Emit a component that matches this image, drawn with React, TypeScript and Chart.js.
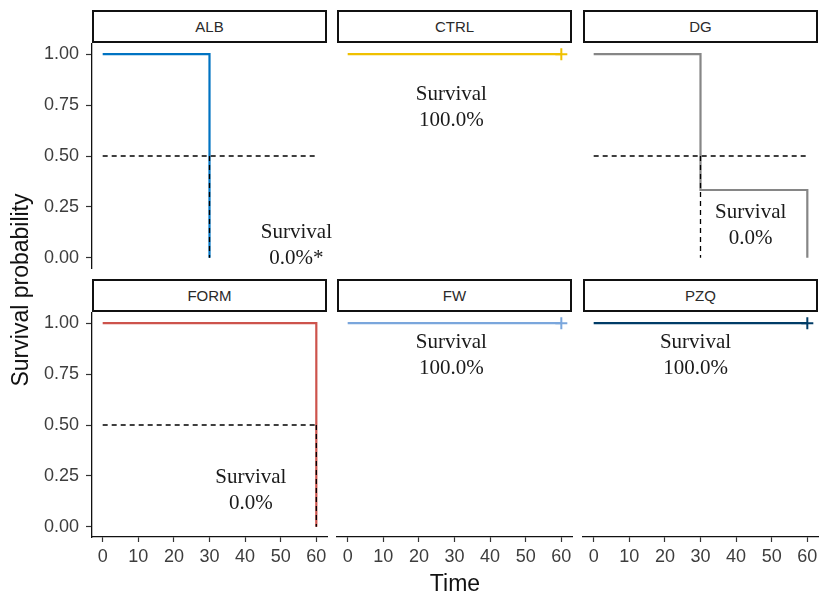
import React, { useEffect, useRef } from "react";
import { Chart, registerables } from "chart.js";

Chart.register(...registerables);

// ---- data ----
const GROUPS = ["ALB", "CTRL", "DG", "FORM", "FW", "PZQ"];
const COLORS = ["#0073C2", "#EFC000", "#868686", "#CD534C", "#7AA6DC", "#003C67"];
const TIMES = [[0, 30], [0, 60], [0, 30, 60], [0, 60], [0, 60], [0, 60]];
const SURV = [[1, 0], [1, 1], [1, 0.333, 0], [1, 0], [1, 1], [1, 1]];
const CENSOR_TIMES = [[], [60], [], [], [60], [60]];
const MEDIANS = [30, null, 30, 60, null, null];
const MEDIAN_LINE_END = 60;
const SURVIVAL_TEXT = ["0.0%*", "100.0%", "0.0%", "0.0%", "100.0%", "100.0%"];
const LABEL_X = [54.4, 29.1, 44.1, 41.6, 29.1, 28.6];
const LABEL_Y = [0.06, 0.74, 0.16, 0.18, 0.84, 0.84];
const X_TICKS = [0, 10, 20, 30, 40, 50, 60];
const Y_TICKS = [0, 0.25, 0.5, 0.75, 1];

// ---- layout ----
const PANEL_W = 235;
const PANEL_H = 224;
const COL_LEFT = [92, 337, 583];
const ROW_TOP = [44, 313];
const STRIP_H = 34;

const SANS = '"Liberation Sans", Arial, sans-serif';
const SERIF = '"Liberation Serif", "Times New Roman", serif';

function Panel({ idx }: { idx: number }) {
  const ref = useRef<HTMLCanvasElement | null>(null);
  const col = idx % 3;
  const row = Math.floor(idx / 3);
  const mL = col === 0 ? 92 : 20;
  const mR = 20;
  const mT = 20;
  const mB = row === 1 ? 59 : 20;
  const left = COL_LEFT[col] - mL;
  const top = ROW_TOP[row] - mT;
  const w = PANEL_W + mL + mR;
  const h = PANEL_H + mT + mB;

  useEffect(() => {
    if (!ref.current) return;
    const color = COLORS[idx];
    const datasets: any[] = [];
    datasets.push({
      data: TIMES[idx].map((t, i) => ({ x: t, y: SURV[idx][i] })),
      borderColor: color,
      borderWidth: 2.2,
      stepped: "before",
      pointRadius: 0,
      order: 2,
    });
    const med = MEDIANS[idx];
    if (med !== null) {
      datasets.push({
        data: [{ x: 0, y: 0.5 }, { x: MEDIAN_LINE_END, y: 0.5 }],
        borderColor: "#000",
        borderWidth: 1.3,
        borderDash: [5, 4],
        pointRadius: 0,
        order: 0,
      });
      datasets.push({
        data: [{ x: med, y: 0.5 }, { x: med, y: 0 }],
        borderColor: "#000",
        borderWidth: 1.3,
        borderDash: [5, 4],
        pointRadius: 0,
        order: 0,
      });
    }
    if (CENSOR_TIMES[idx].length) {
      datasets.push({
        data: CENSOR_TIMES[idx].map((t) => {
          let s = 1;
          TIMES[idx].forEach((tt, i) => {
            if (tt <= t) s = SURV[idx][i];
          });
          return { x: t, y: s };
        }),
        showLine: false,
        pointStyle: "cross",
        pointRadius: 6,
        borderColor: color,
        borderWidth: 2,
        backgroundColor: color,
        order: 1,
      });
    }

    const labelPlugin = {
      id: "survLabel",
      afterDatasetsDraw(chart: any) {
        const { ctx, scales } = chart;
        const px = scales.x.getPixelForValue(LABEL_X[idx]);
        const py = scales.y.getPixelForValue(LABEL_Y[idx]);
        ctx.save();
        ctx.font = `21px ${SERIF}`;
        ctx.fillStyle = "#1a1a1a";
        ctx.textAlign = "center";
        ctx.textBaseline = "middle";
        ctx.fillText("Survival", px, py - 13);
        ctx.fillText(SURVIVAL_TEXT[idx], px, py + 13);
        ctx.restore();
      },
    };

    const chart = new Chart(ref.current, {
      type: "line",
      data: { datasets },
      options: {
        responsive: false,
        animation: false,
        layout: {
          padding: {
            left: col === 0 ? 0 : mL,
            right: mR,
            top: mT,
            bottom: row === 1 ? 0 : mB,
          },
        },
        plugins: { legend: { display: false }, tooltip: { enabled: false } },
        scales: {
          x: {
            type: "linear",
            min: -3,
            max: 63,
            display: row === 1,
            afterBuildTicks: (s: any) => {
              s.ticks = X_TICKS.map((v) => ({ value: v }));
            },
            afterFit: (s: any) => {
              if (row === 1) s.height = mB;
            },
            grid: {
              display: true,
              drawOnChartArea: false,
              drawTicks: true,
              tickLength: 5,
              tickColor: "#333",
              tickWidth: 1.2,
            },
            border: { display: true, color: "#111", width: 1.3 },
            ticks: {
              font: { size: 18, family: SANS },
              color: "#3d3d3d",
              padding: 4,
              maxRotation: 0,
              autoSkip: false,
              callback: (v: any) => String(v),
            },
          },
          y: {
            type: "linear",
            min: -0.05,
            max: 1.05,
            display: col === 0,
            afterBuildTicks: (s: any) => {
              s.ticks = Y_TICKS.map((v) => ({ value: v }));
            },
            afterFit: (s: any) => {
              if (col === 0) s.width = mL;
            },
            grid: {
              display: true,
              drawOnChartArea: false,
              drawTicks: true,
              tickLength: 6,
              tickColor: "#333",
              tickWidth: 1.2,
            },
            border: { display: true, color: "#111", width: 1.3 },
            ticks: {
              font: { size: 18, family: SANS },
              color: "#3d3d3d",
              padding: 7,
              autoSkip: false,
              callback: (v: any) => Number(v).toFixed(2),
            },
          },
        },
      } as any,
      plugins: [labelPlugin],
    });
    return () => chart.destroy();
  }, []);

  return (
    <canvas
      ref={ref}
      width={w}
      height={h}
      style={{ position: "absolute", left, top, width: w, height: h }}
    />
  );
}

function Strip({ idx }: { idx: number }) {
  const col = idx % 3;
  const row = Math.floor(idx / 3);
  return (
    <div
      style={{
        position: "absolute",
        left: COL_LEFT[col],
        top: ROW_TOP[row] - STRIP_H,
        width: PANEL_W,
        height: STRIP_H - 1,
        boxSizing: "border-box",
        border: "2px solid #111",
        background: "#fff",
        display: "flex",
        alignItems: "center",
        justifyContent: "center",
        fontFamily: SANS,
        fontSize: 15,
        color: "#2a2a2a",
      }}
    >
      {GROUPS[idx]}
    </div>
  );
}

export default function App() {
  return (
    <div
      style={{
        position: "absolute",
        left: 0,
        top: 0,
        width: 822,
        height: 596,
        overflow: "hidden",
        background: "#fff",
      }}
    >
      {GROUPS.map((g, i) => (
        <Strip key={"s" + g} idx={i} />
      ))}
      {GROUPS.map((g, i) => (
        <Panel key={"p" + g} idx={i} />
      ))}
      <div
        style={{
          position: "absolute",
          left: 20 - 150,
          top: 290 - 15,
          width: 300,
          height: 30,
          lineHeight: "30px",
          textAlign: "center",
          transform: "rotate(-90deg)",
          fontFamily: SANS,
          fontSize: 23,
          color: "#111",
        }}
      >
        Survival probability
      </div>
      <div
        style={{
          position: "absolute",
          left: 455 - 100,
          top: 583 - 15,
          width: 200,
          height: 30,
          lineHeight: "30px",
          textAlign: "center",
          fontFamily: SANS,
          fontSize: 23,
          color: "#111",
        }}
      >
        Time
      </div>
    </div>
  );
}
